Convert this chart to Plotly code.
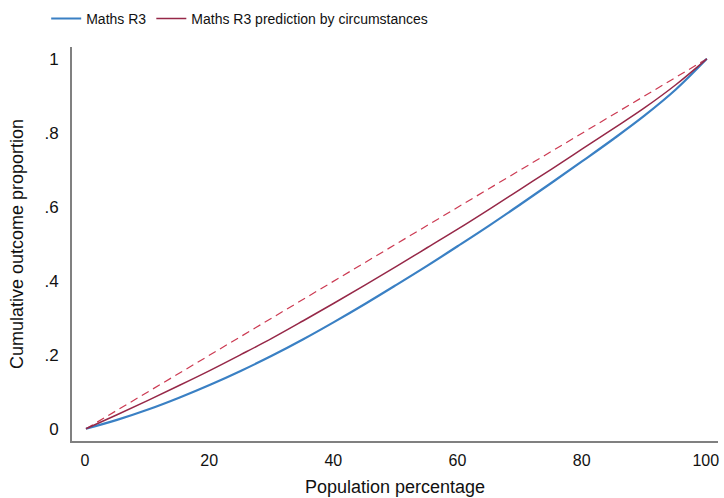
import plotly.graph_objects as go

# population percentage
pop = [0, 5, 10, 15, 20, 25, 30, 35, 40, 45, 50, 55, 60, 65, 70, 75, 80, 85, 90, 95, 100]
# cumulative outcome proportion, actual maths R3
maths_r3 = [0, 0.024, 0.052, 0.084, 0.119, 0.157, 0.198, 0.242, 0.289, 0.338, 0.389,
            0.441, 0.495, 0.550, 0.607, 0.665, 0.724, 0.784, 0.847, 0.917, 1.0]
# cumulative outcome proportion, prediction by circumstances
maths_pred = [0, 0.038, 0.077, 0.117, 0.158, 0.201, 0.245, 0.292, 0.340, 0.389, 0.439,
              0.490, 0.541, 0.594, 0.648, 0.702, 0.757, 0.812, 0.868, 0.930, 1.0]
equality_x = [0, 100]
equality_y = [0, 1]

ytick_vals = [0, 0.2, 0.4, 0.6, 0.8, 1]
ytick_text = ["0", ".2", ".4", ".6", ".8", "1"]
xtick_vals = [0, 20, 40, 60, 80, 100]

fig = go.Figure()
fig.add_trace(go.Scatter(x=equality_x, y=equality_y, mode="lines", showlegend=False,
                         line=dict(color="#cc3a52", width=1.2, dash="8px,5px")))
fig.add_trace(go.Scatter(x=pop, y=maths_r3, mode="lines", name="Maths R3",
                         line=dict(color="#3a80c4", width=2.2, shape="spline")))
fig.add_trace(go.Scatter(x=pop, y=maths_pred, mode="lines", name="Maths R3 prediction by circumstances",
                         line=dict(color="#962848", width=1.5, shape="spline")))

fig.update_xaxes(range=[-2.25, 101.8], tickvals=xtick_vals, showgrid=False, zeroline=False,
                 showline=True, linecolor="#808080", linewidth=2, ticks="",
                 ticklabelstandoff=4, ticklabelshift=-1, tickfont=dict(size=16),
                 title_text="Population percentage", title_font=dict(size=18), title_standoff=12)
fig.update_yaxes(range=[-0.033, 1.032], tickvals=ytick_vals, ticktext=ytick_text,
                 showgrid=False, zeroline=False, showline=True, linecolor="#808080",
                 linewidth=2, ticks="", ticklabelstandoff=8, tickfont=dict(size=17),
                 title_text="Cumulative outcome proportion", title_font=dict(size=18),
                 title_standoff=16)
fig.update_layout(width=724, height=498, plot_bgcolor="white", paper_bgcolor="white",
                  font=dict(family="Liberation Sans, Arial", size=17, color="#111"),
                  margin=dict(l=72, r=6, t=47, b=57, autoexpand=False),
                  legend=dict(orientation="h", x=0.0638, xref="container", xanchor="left",
                              y=0.962, yref="container", yanchor="middle",
                              bgcolor="rgba(0,0,0,0)", font=dict(size=14)))
# drop the default 8px page margin so the figure fills the window
fig.write_html("out.html", config={"displayModeBar": False},
               post_script="document.body.style.margin='0';")
